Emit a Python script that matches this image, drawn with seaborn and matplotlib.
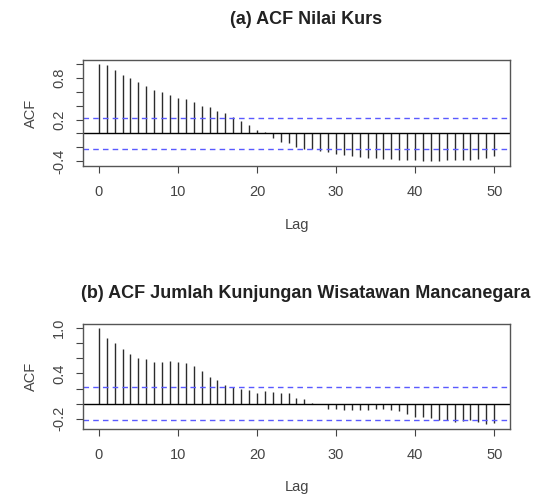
import numpy as np
import pandas as pd
import matplotlib
matplotlib.use("Agg")
import matplotlib.pyplot as plt
import seaborn as sns

sns.set_theme(style="white")
plt.rcParams['font.family'] = ['Liberation Sans', 'DejaVu Sans']

# ACF values
lags = list(range(0, 51))
acf_kurs = [1.00, 0.985, 0.92, 0.85, 0.80, 0.74, 0.68, 0.63, 0.60, 0.56,
            0.51, 0.49, 0.45, 0.40, 0.38, 0.33, 0.29, 0.24, 0.18, 0.12,
            0.05, 0.015, -0.06, -0.12, -0.14, -0.19, -0.22, -0.23, -0.25, -0.27,
            -0.29, -0.31, -0.33, -0.34, -0.35, -0.36, -0.37, -0.375, -0.38, -0.39,
            -0.39, -0.40, -0.40, -0.40, -0.39, -0.39, -0.38, -0.38, -0.37, -0.36,
            -0.33]
acf_wisman = [1.00, 0.867, 0.80, 0.72, 0.66, 0.60, 0.59, 0.555, 0.555, 0.565,
              0.555, 0.54, 0.50, 0.43, 0.355, 0.31, 0.245, 0.215, 0.19, 0.18,
              0.145, 0.165, 0.155, 0.145, 0.14, 0.075, 0.06, 0.005, -0.01, -0.065,
              -0.065, -0.09, -0.09, -0.09, -0.08, -0.07, -0.07, -0.09, -0.10, -0.13,
              -0.18, -0.18, -0.19, -0.21, -0.22, -0.245, -0.235, -0.22, -0.245, -0.265,
              -0.26]
ci_kurs = 0.222
ci_wisman = 0.215

titles = ["(a) ACF Nilai Kurs", "(b) ACF Jumlah Kunjungan Wisatawan Mancanegara"]
yticks_list = [[-0.4, -0.2, 0.0, 0.2, 0.4, 0.6, 0.8, 1.0],
               [-0.2, 0.0, 0.2, 0.4, 0.6, 0.8, 1.0]]
ylabels_shown = [["-0.4", "", "", "0.2", "", "", "0.8", ""],
                 ["-0.2", "", "", "0.4", "", "", "1.0"]]
ylims = [(-0.47, 1.06), (-0.335, 1.055)]

W, H = 541, 497
fig = plt.figure(figsize=(W / 100, H / 100), dpi=100)

# axes boxes in pixel coordinates: left, top, right, bottom
boxes = [(83, 60, 510, 166), (83, 324, 510, 429)]
title_y = [20, 293]
series = [acf_kurs, acf_wisman]
cis = [ci_kurs, ci_wisman]

for i in range(2):
    l, t, r, b = boxes[i]
    ax = fig.add_axes([l / W, (H - b) / H, (r - l) / W, (b - t) / H])
    df = pd.DataFrame({"lag": lags, "acf": series[i]})
    ax.vlines(df["lag"], 0, df["acf"], color="#2b2b2b", lw=1.0)
    sns.lineplot(x=[-2, 52], y=[0, 0], ax=ax, color="black", lw=1.0)
    for s in (1, -1):
        sns.lineplot(x=[-2, 52], y=[s * cis[i]] * 2, ax=ax, color="#5a5aff",
                     lw=1.0, linestyle=(0, (4, 3)))
    ax.set_xlim(-2, 52)
    ax.set_ylim(*ylims[i])
    ax.set_xticks([0, 10, 20, 30, 40, 50])
    ax.set_xticklabels(["0", "10", "20", "30", "40", "50"])
    ax.set_yticks(yticks_list[i])
    ax.set_yticklabels(ylabels_shown[i], rotation=90, va="center")
    ax.tick_params(axis="both", direction="out", length=5, width=0.8,
                   colors="#444444", labelsize=10.5, bottom=True, left=True)
    ax.tick_params(axis="x", pad=9)
    ax.tick_params(axis="y", pad=7)
    for sp in ax.spines.values():
        sp.set_color("#555555")
        sp.set_linewidth(1.0)
    ax.set_xlabel("Lag", fontsize=10.5, color="#444444", labelpad=13)
    ax.set_ylabel("ACF", fontsize=10.5, color="#444444", labelpad=10)
    ax.grid(False)
    fig.text(306 / W, 1 - title_y[i] / H, titles[i], ha="center", va="center",
             fontsize=13, fontweight="bold", color="#222222")

fig.savefig("out.png", dpi=100, facecolor="white")
